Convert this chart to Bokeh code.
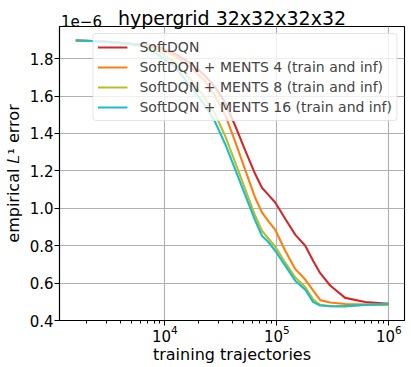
from bokeh.plotting import figure
from bokeh.models import (Range1d, FixedTicker, PrintfTickFormatter, Legend, LegendItem,
                          LogTickFormatter, LogAxis, CustomJSTickFormatter)
from bokeh.embed import file_html
from bokeh.resources import INLINE

# training trajectories (x) and empirical L1 error (in units of 1e-6)
x_traj = [1600, 2600, 4400, 6700, 9100, 12400, 16800, 22900, 28100, 34500, 42500, 52100,
          64000, 73500, 83600, 96600, 118600, 145600, 179000, 211000, 243600, 299000,
          407000, 614000, 1000000]
softdqn = [1.897, 1.893, 1.882, 1.874, 1.859, 1.824, 1.778, 1.707, 1.648, 1.564, 1.440,
           1.310, 1.183, 1.110, 1.073, 1.031, 0.944, 0.859, 0.800, 0.718, 0.653, 0.587,
           0.521, 0.499, 0.489]
ments4 = [1.897, 1.893, 1.882, 1.872, 1.851, 1.813, 1.755, 1.680, 1.600, 1.499, 1.355,
          1.205, 1.056, 0.978, 0.933, 0.885, 0.773, 0.676, 0.619, 0.560, 0.509, 0.496,
          0.488, 0.485, 0.485]
ments8 = [1.897, 1.893, 1.882, 1.868, 1.835, 1.776, 1.691, 1.589, 1.504, 1.387, 1.244,
          1.102, 0.960, 0.880, 0.840, 0.795, 0.709, 0.631, 0.579, 0.512, 0.484, 0.477,
          0.475, 0.483, 0.485]
ments16 = [1.897, 1.893, 1.882, 1.864, 1.813, 1.755, 1.653, 1.547, 1.461, 1.344, 1.207,
           1.071, 0.934, 0.853, 0.821, 0.773, 0.693, 0.613, 0.565, 0.498, 0.480, 0.476,
           0.477, 0.484, 0.489]

series_names = ["SoftDQN", "SoftDQN + MENTS 4 (train and inf)",
                "SoftDQN + MENTS 8 (train and inf)", "SoftDQN + MENTS 16 (train and inf)"]
series_values = [softdqn, ments4, ments8, ments16]
colors = ["#d62728", "#ff7f0e", "#bcbd22", "#17becf"]

y_ticks = [0.4, 0.6, 0.8, 1.0, 1.2, 1.4, 1.6, 1.8]
x_ticks = [1e4, 1e5, 1e6]
title_text = "hypergrid 32x32x32x32"
offset_text = "1e\u22126"

FONT = "DejaVu Sans"
FW, FH = 345, 294
X0, X1 = 1145, 1.378e6
Y0, Y1 = 0.4, 1.972

p = figure(frame_width=FW, frame_height=FH, x_axis_type="log",
           x_range=Range1d(X0, X1), y_range=Range1d(Y0, Y1),
           output_backend="svg", toolbar_location=None,
           min_border_left=59, min_border_right=7, min_border_top=26, min_border_bottom=47)
try:
    p.title_location = None
except Exception:
    pass

p.background_fill_color = "white"
p.border_fill_color = "white"
p.border_fill_alpha = 0
p.outline_line_color = "black"
p.outline_line_width = 1.1

items = []
for name, vals, c in zip(series_names, series_values, colors):
    r = p.line(x_traj, vals, line_color=c, line_width=2.1)
    items.append(LegendItem(label=name, renderers=[r]))

legend = Legend(items=items, location="top_right", margin=7, padding=4,
                spacing=2, label_height=18, glyph_height=18, glyph_width=30,
                label_standoff=12, label_text_font=FONT, label_text_font_size="14px",
                background_fill_color="white", background_fill_alpha=0.8,
                border_line_color="#cccccc", border_line_width=1)
try:
    legend.border_radius = 4
except Exception:
    pass
p.add_layout(legend)

# main axes
xa = p.xaxis[0]
xa.ticker = FixedTicker(ticks=x_ticks,
                        minor_ticks=[m * 10 ** e for e in range(3, 7) for m in range(1, 10)])
xa.formatter = LogTickFormatter()
ya = p.yaxis[0]
ya.ticker = FixedTicker(ticks=y_ticks)
ya.formatter = PrintfTickFormatter(format="%.1f")

for ax in (xa, ya):
    ax.axis_line_color = "black"
    ax.axis_line_width = 1.1
    ax.major_tick_line_color = "black"
    ax.minor_tick_line_color = "black"
    ax.major_tick_out = 5
    ax.major_tick_in = 0
    ax.minor_tick_out = 3
    ax.minor_tick_in = 0
    ax.major_label_text_font = FONT
    ax.major_label_text_font_size = "15px"
    ax.major_label_text_color = "black"
    ax.axis_label_text_font = FONT
    ax.axis_label_text_font_size = "16px"
    ax.axis_label_text_font_style = "normal"
    ax.axis_label_text_color = "black"
ya.minor_tick_out = 0
ya.major_label_standoff = 1
xa.major_label_standoff = -1
xa.axis_label_standoff = 0
ya.axis_label_standoff = 4
xa.axis_label = "training trajectories"
ya.axis_label = "empirical 𝐿¹ error"

p.xgrid.ticker = FixedTicker(ticks=x_ticks)
p.ygrid.ticker = FixedTicker(ticks=y_ticks)
p.grid.grid_line_color = "#b0b0b0"
p.grid.grid_line_width = 1.1

# a bare axis above the frame carries the offset text "1e-6" (as its one tick label,
# centred 22 px right of the frame's left edge) and the title (as its axis label,
# pulled down onto the same row)
offset_pos = X0 * 10 ** (22 * (6.1393 - 3.0589) / FW)
top = LogAxis(ticker=FixedTicker(ticks=[offset_pos], minor_ticks=[]),
              formatter=CustomJSTickFormatter(code="return '%s';" % offset_text),
              axis_line_color=None, major_tick_line_color=None, minor_tick_line_color=None,
              major_tick_out=0, major_tick_in=0, minor_tick_out=0, minor_tick_in=0,
              major_label_standoff=0,
              major_label_text_font=FONT, major_label_text_font_size="15px",
              major_label_text_color="black",
              axis_label=title_text, axis_label_standoff=-17,
              axis_label_text_font=FONT, axis_label_text_font_size="19px",
              axis_label_text_font_style="normal", axis_label_text_color="black")
p.add_layout(top, "above")

open("out.html", "w").write(file_html(p, INLINE))
